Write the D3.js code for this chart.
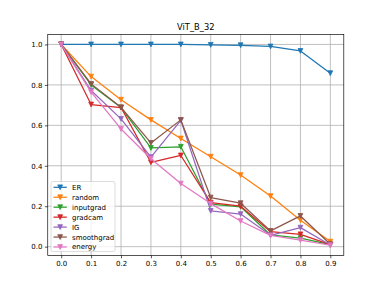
<!DOCTYPE html>
<html><head><meta charset="utf-8">
<script src="https://cdn.jsdelivr.net/npm/d3@7"></script>
<style>body{margin:0;background:#fff}svg{display:block}text{font-family:"DejaVu Sans",sans-serif}</style>
</head><body>
<script>
const title = "ViT_B_32";
const xValues = [0.0,0.1,0.2,0.3,0.4,0.5,0.6,0.7,0.8,0.9];
const xTicks = [0.0,0.1,0.2,0.3,0.4,0.5,0.6,0.7,0.8,0.9];
const yTicks = [0.0,0.2,0.4,0.6,0.8,1.0];
const seriesNames = ["ER","random","inputgrad","gradcam","IG","smoothgrad","energy"];
const colors = ["#1f77b4","#ff7f0e","#2ca02c","#d62728","#9467bd","#8c564b","#e377c2"];
const ER =         [1.0,1.0,1.0,1.0,1.0,0.998,0.996,0.990,0.968,0.858];
const random =     [1.0,0.841,0.727,0.627,0.535,0.445,0.354,0.250,0.131,0.025];
const inputgrad =  [1.0,0.800,0.688,0.488,0.494,0.210,0.197,0.058,0.042,0.010];
const gradcam =    [1.0,0.703,0.688,0.417,0.451,0.218,0.200,0.074,0.061,0.010];
const IG =         [1.0,0.772,0.632,0.443,0.625,0.177,0.161,0.056,0.094,0.008];
const smoothgrad = [1.0,0.805,0.689,0.513,0.627,0.243,0.215,0.078,0.152,0.012];
const energy =     [1.0,0.764,0.582,0.435,0.312,0.213,0.127,0.056,0.032,0.007];
const seriesValues = [ER,random,inputgrad,gradcam,IG,smoothgrad,energy];

const W=382,H=287;
const L=47.75,R=343.8,T=34.4,B=255.4;
const svg=d3.select("body").append("svg").attr("width",W).attr("height",H);
const x=d3.scaleLinear().domain([-0.045,0.945]).range([L,R]);
const y=d3.scaleLinear().domain([-0.0432,1.0497]).range([B,T]);
const fs=7.0;

// grid
const g=svg.append("g");
g.selectAll(".gx").data(xTicks).join("line").attr("x1",d=>x(d)).attr("x2",d=>x(d)).attr("y1",T).attr("y2",B).attr("stroke","#b0b0b0").attr("stroke-width",0.8);
g.selectAll(".gy").data(yTicks).join("line").attr("y1",d=>y(d)).attr("y2",d=>y(d)).attr("x1",L).attr("x2",R).attr("stroke","#b0b0b0").attr("stroke-width",0.8);

// axes
const xa=svg.append("g").attr("transform",`translate(0,${B})`).call(d3.axisBottom(x).tickValues(xTicks).tickFormat(d3.format(".1f")).tickSize(2.9).tickPadding(2.6));
const ya=svg.append("g").attr("transform",`translate(${L},0)`).call(d3.axisLeft(y).tickValues(yTicks).tickFormat(d3.format(".1f")).tickSize(2.9).tickPadding(2.4));
[xa,ya].forEach(a=>{a.select(".domain").remove();a.selectAll("text").attr("font-size",fs).attr("font-family","DejaVu Sans").attr("fill","#000");a.selectAll("line").attr("stroke","#000").attr("stroke-width",0.67);});

// lines
const line=d3.line().x((d,i)=>x(xValues[i])).y(d=>y(d));
const tri=(cx,cy,s)=>`M${cx},${cy+s/2}L${cx-s/2},${cy-s/2}L${cx+s/2},${cy-s/2}Z`;
seriesValues.forEach((vals,k)=>{
  svg.append("path").attr("d",line(vals)).attr("fill","none").attr("stroke",colors[k]).attr("stroke-width",1.25).attr("stroke-linejoin","round");
  svg.append("g").selectAll("path").data(vals).join("path").attr("d",(d,i)=>tri(x(xValues[i]),y(d),4.8)).attr("fill",colors[k]).attr("stroke",colors[k]).attr("stroke-width",0.8).attr("stroke-linejoin","miter");
});

// spines
svg.append("rect").attr("x",L).attr("y",T).attr("width",R-L).attr("height",B-T).attr("fill","none").attr("stroke","#000").attr("stroke-width",0.67);

// title
svg.append("text").attr("x",(L+R)/2).attr("y",T-4.6).attr("text-anchor","middle").attr("font-size",8.3).attr("fill","#000").text(title);

// legend
const lg=svg.append("g");
const lx=51,ly=181.5,lw=64,lh=70;
lg.append("rect").attr("x",lx).attr("y",ly).attr("width",lw).attr("height",lh).attr("rx",1.7).attr("fill","#fff").attr("fill-opacity",0.8).attr("stroke","#cccccc").attr("stroke-width",0.67);
seriesNames.forEach((n,k)=>{
  const cy=ly+5.8+k*9.95;
  lg.append("line").attr("x1",lx+2.5).attr("x2",lx+15.8).attr("y1",cy).attr("y2",cy).attr("stroke",colors[k]).attr("stroke-width",1.25);
  lg.append("path").attr("d",tri(lx+9.15,cy,4.8)).attr("fill",colors[k]).attr("stroke",colors[k]).attr("stroke-width",0.8);
  lg.append("text").attr("x",lx+21).attr("y",cy).attr("dy","0.35em").attr("font-size",fs).attr("fill","#000").text(n);
});
</script>
</body></html>
